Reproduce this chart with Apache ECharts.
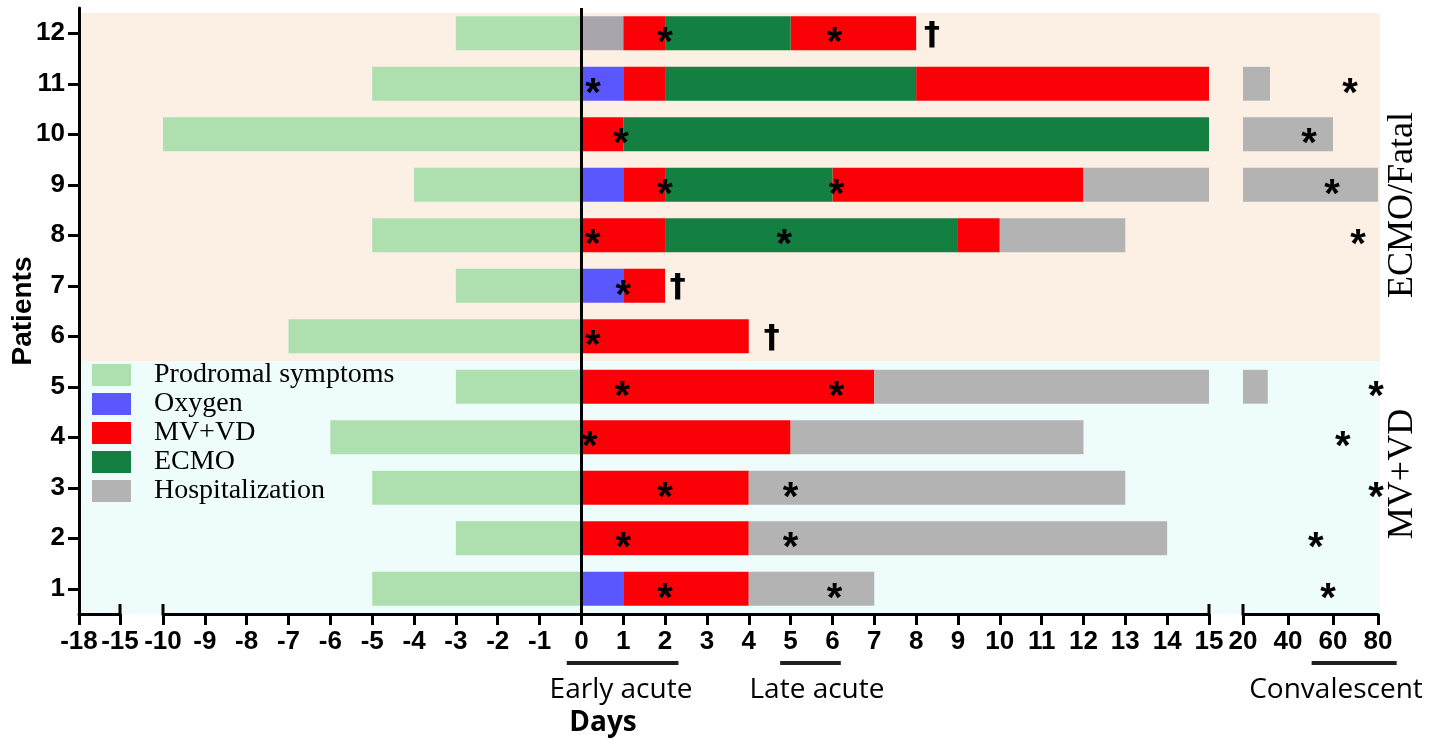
<!DOCTYPE html>
<html><head><meta charset="utf-8">
<script src="https://cdn.jsdelivr.net/npm/echarts@6/dist/echarts.min.js"></script>
<style>html,body{margin:0;padding:0;background:#fff}#c{width:1438px;height:740px}</style>
</head><body><div id="c"></div>
<script>
// ---------------- DATA ----------------
const patients = ['1','2','3','4','5','6','7','8','9','10','11','12'];
// each segment: [patient, startDay, endDay]
const prodromal = [[1,-5,0],[2,-3,0],[3,-5,0],[4,-6,0],[5,-3,0],[6,-7,0],[7,-3,0],[8,-5,0],[9,-4,0],[10,-10,0],[11,-5,0],[12,-3,0]];
const oxygen = [[1,0,1],[7,0,1],[9,0,1],[11,0,1]];
const mvvd = [[1,1,4],[2,0,4],[3,0,4],[4,0,5],[5,0,7],[6,0,4],[7,1,2],[8,0,2],[8,9,10],[9,1,2],[9,6,12],[10,0,1],[11,1,2],[11,8,15],[12,1,2],[12,5,8]];
const ecmo = [[8,2,9],[9,2,6],[10,1,15],[11,2,8],[12,2,5]];
const hospitalization = [[1,4,7],[2,4,14],[3,4,13],[4,5,12],[5,7,15],[8,10,13],[9,12,15]];
const hospitalizationConv = [[5,20,31],[9,20,80],[10,20,60],[11,20,32]];
const other = [[12,0,1]];
// sampling time points (asterisks): [patient, day]
const samplesAcute = [[12,2],[12,6.05],[11,0.28],[10,0.95],[9,2],[9,6.1],[8,0.27],[8,4.85],[7,1],[6,0.27],[5,0.98],[5,6.1],[4,0.2],[3,2],[3,5],[2,1],[2,5],[1,2],[1,6.05]];
const samplesConv = [[11,67.6],[10,49.3],[9,59.6],[8,71.1],[5,79.1],[4,64.4],[3,79.1],[2,52.4],[1,57.8]];
// deaths (daggers): [patient, day]
const deaths = [[12,8.38],[7,2.3],[6,4.55]];
// axis break ends
const breakLeft = [-15], breakMid = [-10, 15], breakRight = [20];
// patient groups: [label, fromPos, toPos]
const groups = [['ECMO/Fatal', 5.5, 12.4], ['MV+VD', 0.5, 5.5]];
// phases under the axis
const phaseNames = ['Early acute', 'Late acute', 'Convalescent'];
const phaseFrom = [-0.35, 4.75, 50.5];
const phaseTo = [2.32, 6.2, 88.3];
const phaseAxis = [2, 2, 3];
const legendNames = ['Prodromal symptoms','Oxygen','MV+VD','ECMO','Hospitalization'];

// ---------------- RENDER ----------------
const chart = echarts.init(document.getElementById('c'), null, {renderer:'canvas'});
const top0 = 8, h0 = 606;
const AXC = '#000';
const tickFont = {fontFamily:'Liberation Sans', fontWeight:'bold', fontSize:26, color:'#000'};

function barItem(params, api){
  const y = api.value(0), s = api.value(1), e = api.value(2);
  const a = api.coord([s, y]), b = api.coord([e, y]);
  const h = api.size([0, 1])[1] * 0.67;
  return {type:'rect', shape:{x:a[0], y:a[1]-h/2, width:b[0]-a[0], height:h}, style:{fill:api.visual('color')}};
}
function textItem(ch, font, dy){
  return function(params, api){
    const p = api.coord([api.value(1), api.value(0)]);
    return {type:'text', x:p[0], y:p[1]+dy, style:{text:ch, fill:'#000', font:font, align:'center', verticalAlign:'middle'}};
  };
}
function capItem(params, api){
  const x = api.coord([api.value(0), api.value(0)])[0];
  const cs = params.coordSys;
  const yb = cs.y + cs.height;
  return {type:'line', shape:{x1:x, y1:yb, x2:x, y2:yb-10}, style:{stroke:'#000', lineWidth:3}};
}
function bgItem(params, api){
  const a = api.coord([0, api.value(2)]), b = api.coord([1, api.value(1)]);
  const color = params.dataIndex === 0 ? '#fcefe3' : '#effcfc';
  return {type:'rect', shape:{x:a[0], y:a[1], width:b[0]-a[0], height:b[1]-a[1]}, style:{fill:color}};
}
function barSeries(name, data, color, gi){
  return {type:'custom', name, data, renderItem:barItem, xAxisIndex:gi, yAxisIndex:gi,
    encode:{x:[1,2], y:0}, itemStyle:{color}, z:3, clip:false};
}

const xBase = (gi, min, max, interval) => ({
  gridIndex:gi, type:'value', min, max, interval,
  axisLine:{show:true, onZero:false, lineStyle:{color:AXC, width:3}},
  axisTick:{show:true, length:11, lineStyle:{color:AXC, width:3}},
  axisLabel:Object.assign({margin:15}, tickFont),
  splitLine:{show:false}, z:5
});
const yHidden = gi => ({gridIndex:gi, type:'value', min:0.5, max:12.5, show:false, splitLine:{show:false}});

const option = {
  animation:false,
  backgroundColor:'#fff',
  grid:[
    {left:80, top:top0, width:1300, height:h0},
    {left:79, top:top0, width:41, height:h0},
    {left:163, top:top0, width:1046, height:h0},
    {left:1243, top:top0, width:135, height:h0}
  ],
  xAxis:[
    {gridIndex:0, type:'value', min:0, max:1, show:false, splitLine:{show:false}},
    xBase(1, -18, -15, 3),
    xBase(2, -10, 15, 1),
    xBase(3, 20, 80, 20)
  ],
  yAxis:[
    yHidden(0),
    {gridIndex:1, type:'category', data:patients, boundaryGap:true,
     axisLine:{show:true, lineStyle:{color:AXC, width:3}},
     axisTick:{show:true, alignWithLabel:true, length:11, lineStyle:{color:AXC, width:3}},
     axisLabel:Object.assign({margin:14}, tickFont),
     name:'Patients', nameLocation:'middle', nameRotate:90, nameGap:42, nameMoveOverlap:false,
     nameTextStyle:{fontFamily:'Liberation Sans', fontWeight:'bold', fontSize:28, color:'#000'},
     splitLine:{show:false}, z:5},
    yHidden(2),
    yHidden(3)
  ],
  legend:{
    data:legendNames, orient:'vertical', left:92, top:361, padding:0,
    itemWidth:39, itemHeight:22, itemGap:1, icon:'rect',
    textStyle:{fontFamily:'Liberation Serif', fontSize:28, color:'#000', padding:[0,0,0,18]}
  },
  series:[
    {type:'custom', name:'bg', data:groups.map(g=>[g[0], g[1], g[2]]), renderItem:bgItem,
     xAxisIndex:0, yAxisIndex:0, encode:{y:[1,2]}, z:0, silent:true, clip:false},
    Object.assign(barSeries('Prodromal symptoms', prodromal, '#ade0ae', 2), {
      markLine:{silent:true, symbol:'none', label:{show:false}, animation:false,
        lineStyle:{color:'#000', width:3, type:'solid'}, data:[{xAxis:0}], z:6}
    }),
    barSeries('Oxygen', oxygen, '#5a58fd', 2),
    barSeries('MV+VD', mvvd, '#fb0007', 2),
    barSeries('ECMO', ecmo, '#137f41', 2),
    barSeries('Hospitalization', hospitalization, '#b3b3b3', 2),
    barSeries('Hospitalization', hospitalizationConv, '#b3b3b3', 3),
    barSeries('Other', other, '#aaa4ac', 2),
    {type:'custom', name:'cap1', data:breakLeft.map(v=>[v]), renderItem:capItem, xAxisIndex:1, yAxisIndex:1, encode:{x:0}, z:6, clip:false, silent:true},
    {type:'custom', name:'cap2', data:breakMid.map(v=>[v]), renderItem:capItem, xAxisIndex:2, yAxisIndex:2, encode:{x:0}, z:6, clip:false, silent:true},
    {type:'custom', name:'cap3', data:breakRight.map(v=>[v]), renderItem:capItem, xAxisIndex:3, yAxisIndex:3, encode:{x:0}, z:6, clip:false, silent:true},
    {type:'custom', name:'Sample', data:samplesAcute, renderItem:textItem('*', 'bold 40px "Liberation Sans"', 11), xAxisIndex:2, yAxisIndex:2, encode:{x:1, y:0}, z:7, clip:false},
    {type:'custom', name:'Sample conv', data:samplesConv, renderItem:textItem('*', 'bold 40px "Liberation Sans"', 11), xAxisIndex:3, yAxisIndex:3, encode:{x:1, y:0}, z:7, clip:false},
    {type:'custom', name:'Death', data:deaths, renderItem:textItem('\u2020', 'bold 32px "DejaVu Sans"', 2), xAxisIndex:2, yAxisIndex:2, encode:{x:1, y:0}, z:7, clip:false}
  ]
};
chart.setOption(option);

// annotations below axis and group labels
const g = [];
const textX = [621, 817, 1336];
phaseNames.forEach((n, i) => {
  const x1 = chart.convertToPixel({xAxisIndex:phaseAxis[i]}, phaseFrom[i]);
  const x2 = chart.convertToPixel({xAxisIndex:phaseAxis[i]}, phaseTo[i]);
  g.push({type:'line', shape:{x1, y1:663, x2, y2:663}, style:{stroke:'#231f20', lineWidth:4}});
  g.push({type:'text', x:textX[i], y:690, style:{text:n, font:'28px "Open Sans"', fill:'#000', align:'center', verticalAlign:'middle'}});
});
g.push({type:'text', x:603, y:723, style:{text:'Days', font:'bold 28px "Open Sans"', fill:'#000', align:'center', verticalAlign:'middle'}});
const groupY = [205, 474];
groups.forEach((gr, i) => {
  g.push({type:'text', x:1403, y:groupY[i], rotation:Math.PI/2,
    style:{text:gr[0], font:'36px "Liberation Serif"', fill:'#000', align:'center', verticalAlign:'middle'}});
});
chart.setOption({graphic:g});
</script>
</body></html>
